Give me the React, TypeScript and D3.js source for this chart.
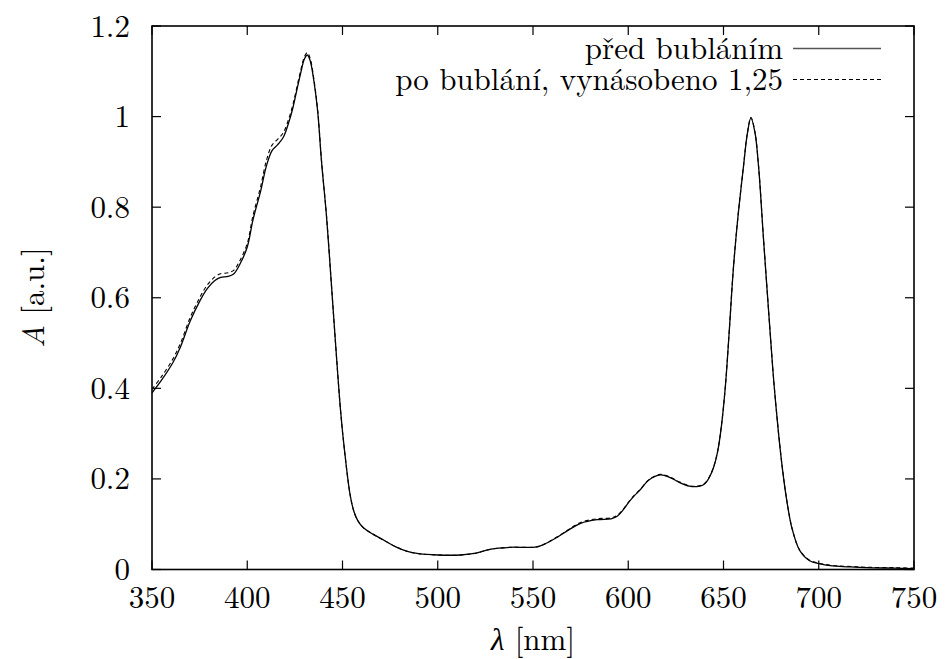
import React from "react";
import * as d3 from "d3";

const wavelengths = [350,355,361,365,370,375,379,383,386,390,393,396,400,403,407,410,413,416,419,422,424,426,428,430,431.5,433,435,437,439,441.6,444,446,449,451,454,456,458,461,466,472,478,484,490,500,512,520,528,538,552,557,563,569,575,583.6,591,594,597,600,603,606.3,611,616.8,622,627,632,636,639,641,643,645,647,649,651,653,655.2,657.5,660.5,662.5,664.4,666.5,668.4,671,674.5,676.5,678.9,681,683.3,686,690,695,700,707,715,725,740,750];

const beforeBubbling = [0.390,0.418,0.457,0.492,0.548,0.592,0.620,0.638,0.645,0.647,0.653,0.673,0.712,0.772,0.835,0.890,0.925,0.938,0.955,0.990,1.020,1.058,1.095,1.127,1.136,1.124,1.078,1.010,0.900,0.780,0.640,0.520,0.350,0.265,0.165,0.128,0.108,0.092,0.078,0.064,0.050,0.040,0.035,0.032,0.032,0.036,0.045,0.049,0.050,0.058,0.072,0.088,0.102,0.110,0.112,0.117,0.130,0.147,0.162,0.176,0.198,0.209,0.203,0.192,0.184,0.183,0.186,0.193,0.207,0.228,0.262,0.320,0.405,0.525,0.665,0.775,0.890,0.962,0.997,0.965,0.890,0.730,0.522,0.410,0.300,0.220,0.150,0.090,0.042,0.020,0.013,0.008,0.006,0.004,0.003,0.002];

const afterBubblingScaled = [0.398,0.426,0.465,0.500,0.556,0.600,0.628,0.646,0.653,0.655,0.661,0.681,0.720,0.781,0.845,0.902,0.937,0.950,0.965,0.998,1.027,1.064,1.101,1.132,1.141,1.129,1.082,1.013,0.902,0.781,0.640,0.520,0.350,0.265,0.165,0.128,0.108,0.092,0.078,0.064,0.050,0.040,0.035,0.032,0.032,0.036,0.045,0.049,0.050,0.058,0.073,0.089,0.104,0.112,0.114,0.119,0.131,0.148,0.163,0.177,0.199,0.210,0.204,0.193,0.185,0.184,0.187,0.194,0.208,0.229,0.263,0.321,0.406,0.526,0.666,0.776,0.891,0.963,0.998,0.966,0.891,0.731,0.523,0.411,0.301,0.221,0.151,0.091,0.043,0.021,0.014,0.009,0.007,0.005,0.004,0.003];

const xTicks = [350,400,450,500,550,600,650,700,750];
const yTicks = [0,0.2,0.4,0.6,0.8,1,1.2];
const seriesNames = ["před bubláním", "po bublání, vynásobeno 1,25"];

const W = 947, H = 659;
const M = { left: 152, right: 914, top: 26, bottom: 569.5 };
const FONT = "'Latin Modern Roman', 'CMU Serif', 'Liberation Serif', 'DejaVu Serif', 'Noto Serif', 'Times New Roman', Times, 'Nimbus Roman', FreeSerif, Tinos, serif";
const FS = 31;

export default function App() {
  const x = d3.scaleLinear().domain([350, 750]).range([M.left, M.right]);
  const y = d3.scaleLinear().domain([0, 1.2]).range([M.bottom, M.top]);
  const line = d3
    .line<number>()
    .x((_, i) => x(wavelengths[i]))
    .y((d) => y(d))
    .curve(d3.curveCatmullRom.alpha(0.5));
  const tick = 9;
  const txt = { fontFamily: FONT, fontSize: FS } as React.CSSProperties;
  return (
    <svg width={W} height={H} style={{ position: "absolute", left: 0, top: 0, background: "#fff" }}>
      <rect x={0} y={0} width={W} height={H} fill="#fff" />
      {xTicks.map((t) => (
        <g key={"x" + t}>
          <line x1={x(t)} x2={x(t)} y1={M.bottom} y2={M.bottom - tick} stroke="#000" strokeWidth={1.2} />
          <line x1={x(t)} x2={x(t)} y1={M.top} y2={M.top + tick} stroke="#000" strokeWidth={1.2} />
          <text x={x(t)} y={608} textAnchor="middle" style={txt}>{t}</text>
        </g>
      ))}
      {yTicks.map((t) => (
        <g key={"y" + t}>
          <line x1={M.left} x2={M.left + tick} y1={y(t)} y2={y(t)} stroke="#000" strokeWidth={1.2} />
          <line x1={M.right} x2={M.right - tick} y1={y(t)} y2={y(t)} stroke="#000" strokeWidth={1.2} />
          <text x={130} y={y(t) + 10.5} textAnchor="end" style={txt}>{String(t)}</text>
        </g>
      ))}
      <path d={line(beforeBubbling) || ""} fill="none" stroke="#000" strokeWidth={1.3} />
      <path d={line(afterBubblingScaled) || ""} fill="none" stroke="#000" strokeWidth={1.1} strokeDasharray="4,3" />
      <rect x={M.left} y={M.top} width={M.right - M.left} height={M.bottom - M.top} fill="none" stroke="#000" strokeWidth={1.6} />
      <text x={783} y={59} textAnchor="end" style={txt}>{seriesNames[0]}</text>
      <line x1={793} x2={881} y1={48.5} y2={48.5} stroke="#555" strokeWidth={1.5} />
      <text x={783} y={90} textAnchor="end" style={txt}>{seriesNames[1]}</text>
      <line x1={793} x2={881} y1={79.5} y2={79.5} stroke="#000" strokeWidth={1.1} strokeDasharray="4,3" />
      <text x={(M.left + M.right) / 2} y={650} textAnchor="middle" style={txt}>
        <tspan fontStyle="italic">λ</tspan> [nm]
      </text>
      <text transform={`translate(44, ${(M.top + M.bottom) / 2}) rotate(-90)`} textAnchor="middle" style={txt}>
        <tspan fontStyle="italic">A</tspan> [a.u.]
      </text>
    </svg>
  );
}
